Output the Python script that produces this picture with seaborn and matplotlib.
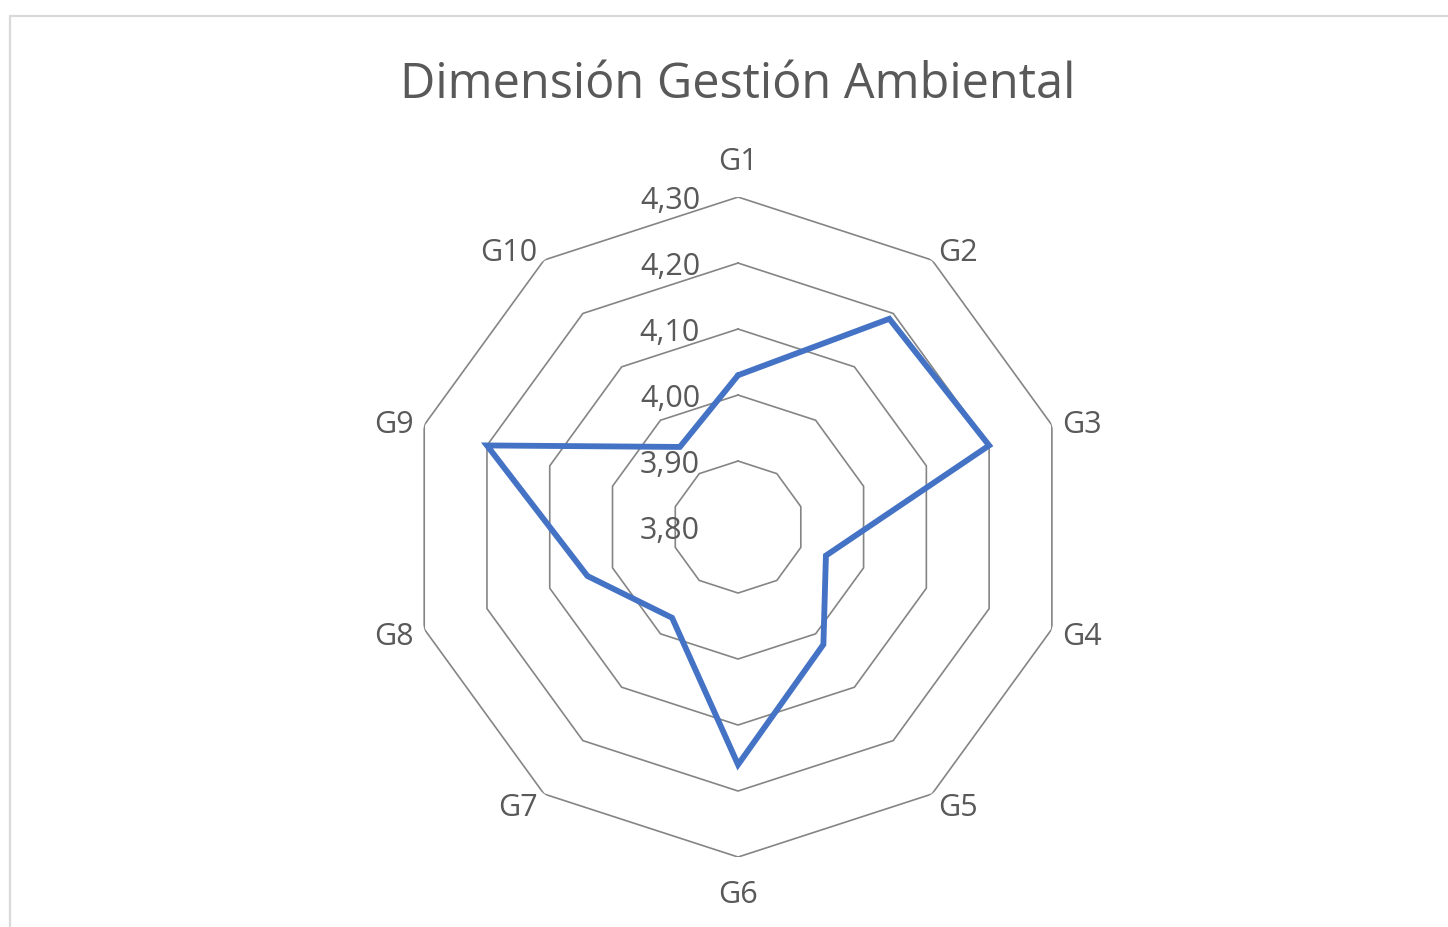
import numpy as np
import pandas as pd
import matplotlib.pyplot as plt
import seaborn as sns

# Chart data
categories = ['G1', 'G2', 'G3', 'G4', 'G5', 'G6', 'G7', 'G8', 'G9', 'G10']
scores = [4.03, 4.19, 4.20, 3.94, 4.02, 4.16, 3.97, 4.04, 4.20, 3.95]
ring_levels = [3.80, 3.90, 4.00, 4.10, 4.20, 4.30]
ring_labels = ['3,80', '3,90', '4,00', '4,10', '4,20', '4,30']
title = 'Dimensión Gestión Ambiental'

sns.set_theme(style='white')
plt.rcParams['font.family'] = ['Open Sans', 'DejaVu Sans']

text_color = '#595959'
line_color = '#4472C4'
grid_color = '#858585'
label_size = 22
cap_px = label_size * 100 / 72 * 0.714   # approx cap height in pixels

fig = plt.figure(figsize=(14.48, 9.28), dpi=100)
fig.patch.set_facecolor('white')

# light chart-area border like Excel
frame = plt.Rectangle((10 / 1448, -0.05), 1.1, (928 - 17) / 928 + 0.05,
                      transform=fig.transFigure, fill=False,
                      edgecolor='#d9d9d9', linewidth=1.6)
fig.add_artist(frame)

ax = fig.add_axes([0.2818, 0.0754, 0.4558, 0.7112], projection='polar')
ax.set_theta_zero_location('N')
ax.set_theta_direction(-1)
ax.set_ylim(ring_levels[0], ring_levels[-1])

n = len(categories)
angles = np.linspace(0, 2 * np.pi, n, endpoint=False)
closed_angles = np.append(angles, angles[0])

# polygon gridlines
for lvl in ring_levels[1:]:
    ax.plot(closed_angles, [lvl] * (n + 1), color=grid_color, linewidth=1.2, zorder=1)

# data line (closed loop)
df = pd.DataFrame({'theta': closed_angles, 'value': scores + scores[:1]})
sns.lineplot(data=df, x='theta', y='value', sort=False, estimator=None, ax=ax,
             color=line_color, linewidth=4.2, zorder=3)
ax.lines[-1].set_solid_joinstyle('miter')

ax.grid(False)
ax.spines['polar'].set_visible(False)
ax.set_xticks([])
ax.set_yticks([])
ax.set_xlabel('')
ax.set_ylabel('')
ax.patch.set_alpha(0)

# radial value labels, left of the G1 axis
for lvl, lab in zip(ring_levels, ring_labels):
    ax.annotate(lab, xy=(0, lvl), xytext=(-38, -cap_px / 2), textcoords='offset pixels',
                ha='right', va='baseline', fontsize=label_size, color=text_color,
                annotation_clip=False, zorder=2)

# category labels placed outside the outer ring vertex
outer = ring_levels[-1]
for ang, cat in zip(angles, categories):
    s, c = np.sin(ang), np.cos(ang)
    if abs(s) < 0.01:
        ha = 'center'
        dx = 0
        dy = 28 if c > 0 else -45
    else:
        ha = 'left' if s > 0 else 'right'
        dx = 11 * s
        dy = 13 * c - cap_px / 2
    ax.annotate(cat, xy=(ang, outer), xytext=(dx, dy), textcoords='offset pixels',
                ha=ha, va='baseline', fontsize=label_size, color=text_color,
                annotation_clip=False)

fig.text(738 / 1448, 1 - 98 / 928, title, ha='center', va='baseline',
         fontsize=35, color=text_color)

fig.savefig('out.png', dpi=100, facecolor='white')
